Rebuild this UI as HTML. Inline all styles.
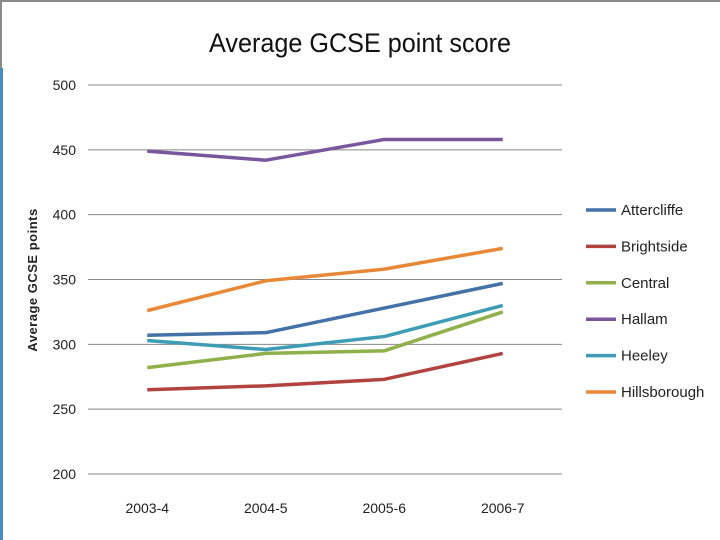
<!DOCTYPE html>
<html><head><meta charset="utf-8"><style>
body{margin:0;background:#fff;width:720px;height:540px;overflow:hidden}
svg{display:block;font-family:"Liberation Sans",sans-serif}
</style></head><body>
<svg id="chart" width="720" height="540">
<rect x="0" y="0" width="720" height="2" fill="#8a8a8a"/>
<rect x="0" y="0" width="2" height="68" fill="#8a8a8a"/>
<rect x="0" y="68" width="3" height="472" fill="#4a8bc4"/>
<text x="360" y="52" text-anchor="middle" font-size="27" fill="#111" textLength="302" lengthAdjust="spacingAndGlyphs">Average GCSE point score</text>
<text transform="translate(37,280) rotate(-90)" text-anchor="middle" font-size="13" font-weight="bold" fill="#222" letter-spacing="0.5">Average GCSE points</text>
<g id="grid"></g><g id="lines"></g><g id="legend"></g>
</svg>
<script>
const categories=["2003-4","2004-5","2005-6","2006-7"];
const seriesNames=["Attercliffe","Brightside","Central","Hallam","Heeley","Hillsborough"];
const attercliffe=[307,309,328,347];
const brightside=[265,268,273,293];
const central=[282,293,295,325];
const hallam=[449,442,458,458];
const heeley=[303,296,306,330];
const hillsborough=[326,349,358,374];
const yTicks=[200,250,300,350,400,450,500];
const colors=["#4472a8","#b0433f","#8fb04a","#7a579c","#3e9db5","#e8893a"];
const series=[attercliffe,brightside,central,hallam,heeley,hillsborough];
const NS="http://www.w3.org/2000/svg";
const X0=88,X1=562,Y0=474,Y1=85;
const y=v=>Y0-(v-200)/(500-200)*(Y0-Y1);
const x=i=>X0+(i+0.5)*(X1-X0)/categories.length;
function mk(t,a,p){const e=document.createElementNS(NS,t);for(const k in a)e.setAttribute(k,a[k]);p.appendChild(e);return e;}
const g=document.getElementById('grid');
yTicks.forEach(t=>{
 const l=mk('line',{x1:X0,x2:X1,y1:y(t),y2:y(t),stroke:'#888','stroke-width':1},g);
 
 
 const tx=mk('text',{x:76,y:y(t)+5,'text-anchor':'end','font-size':14,fill:'#222'},g);
 tx.textContent=t;
 
 
});
categories.forEach((c,i)=>{
 const tx=mk('text',{x:x(i),y:513,'text-anchor':'middle','font-size':14,fill:'#222'},g);
 tx.textContent=c;
 
 
});
const lg=document.getElementById('lines'),leg=document.getElementById('legend');
series.forEach((s,k)=>{
 const p=mk('polyline',{points:s.map((v,i)=>x(i)+','+y(v)).join(' '),fill:'none',stroke:colors[k],'stroke-width':3.5,'stroke-linejoin':'round'},lg);
 
 
 const ly=210+k*36.4;
 const l=mk('line',{x1:586,x2:616,y1:ly,y2:ly,stroke:colors[k],'stroke-width':3.5},leg);
 
 
 const t=mk('text',{x:621,y:ly+5,'font-size':15,fill:'#222'},leg);
 t.textContent=seriesNames[k];
 
 
});
</script>
</body></html>
